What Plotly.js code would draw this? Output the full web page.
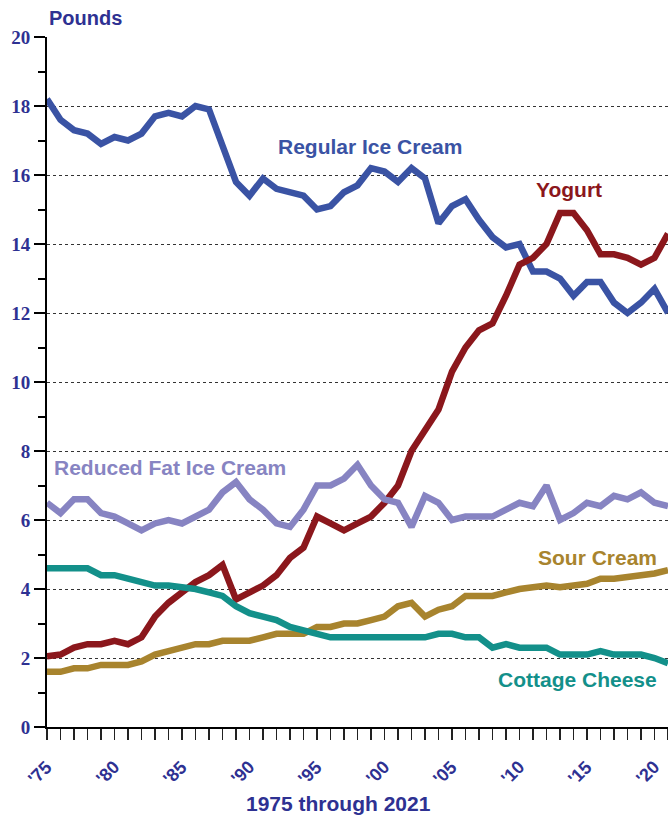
<!DOCTYPE html>
<html>
<head>
<meta charset="utf-8">
<script src="https://cdn.plot.ly/plotly-3.0.1.min.js"></script>
<style>
html, body { margin: 0; padding: 0; background: #ffffff; }
#chart { width: 668px; height: 817px; }
</style>
</head>
<body>
<div id="chart"></div>
<script>
// ---- Data (pounds per person) ----
const years = [];
for (let y = 1975; y <= 2021; y++) years.push(y);

const regularIceCream = [18.2, 17.6, 17.3, 17.2, 16.9, 17.1, 17.0, 17.2, 17.7, 17.8,
  17.7, 18.0, 17.9, 16.9, 15.8, 15.4, 15.9, 15.6, 15.5, 15.4,
  15.0, 15.1, 15.5, 15.7, 16.2, 16.1, 15.8, 16.2, 15.9, 14.6,
  15.1, 15.3, 14.7, 14.2, 13.9, 14.0, 13.2, 13.2, 13.0, 12.5,
  12.9, 12.9, 12.3, 12.0, 12.3, 12.7, 12.0];

const yogurt = [2.05, 2.1, 2.3, 2.4, 2.4, 2.5, 2.4, 2.6, 3.2, 3.6,
  3.9, 4.2, 4.4, 4.7, 3.7, 3.9, 4.1, 4.4, 4.9, 5.2,
  6.1, 5.9, 5.7, 5.9, 6.1, 6.5, 7.0, 8.0, 8.6, 9.2,
  10.3, 11.0, 11.5, 11.7, 12.5, 13.4, 13.6, 14.0, 14.9, 14.9,
  14.4, 13.7, 13.7, 13.6, 13.4, 13.6, 14.3];

const reducedFatIceCream = [6.5, 6.2, 6.6, 6.6, 6.2, 6.1, 5.9, 5.7, 5.9, 6.0,
  5.9, 6.1, 6.3, 6.8, 7.1, 6.6, 6.3, 5.9, 5.8, 6.3,
  7.0, 7.0, 7.2, 7.6, 7.0, 6.6, 6.5, 5.8, 6.7, 6.5,
  6.0, 6.1, 6.1, 6.1, 6.3, 6.5, 6.4, 7.0, 6.0, 6.2,
  6.5, 6.4, 6.7, 6.6, 6.8, 6.5, 6.4];

const sourCream = [1.6, 1.6, 1.7, 1.7, 1.8, 1.8, 1.8, 1.9, 2.1, 2.2,
  2.3, 2.4, 2.4, 2.5, 2.5, 2.5, 2.6, 2.7, 2.7, 2.7,
  2.9, 2.9, 3.0, 3.0, 3.1, 3.2, 3.5, 3.6, 3.2, 3.4,
  3.5, 3.8, 3.8, 3.8, 3.9, 4.0, 4.05, 4.1, 4.05, 4.1,
  4.15, 4.3, 4.3, 4.35, 4.4, 4.45, 4.55];

const cottageCheese = [4.6, 4.6, 4.6, 4.6, 4.4, 4.4, 4.3, 4.2, 4.1, 4.1,
  4.05, 4.0, 3.9, 3.8, 3.5, 3.3, 3.2, 3.1, 2.9, 2.8,
  2.7, 2.6, 2.6, 2.6, 2.6, 2.6, 2.6, 2.6, 2.6, 2.7,
  2.7, 2.6, 2.6, 2.3, 2.4, 2.3, 2.3, 2.3, 2.1, 2.1,
  2.1, 2.2, 2.1, 2.1, 2.1, 2.0, 1.85];

const seriesNames = ["Regular Ice Cream", "Yogurt", "Reduced Fat Ice Cream", "Sour Cream", "Cottage Cheese"];
const seriesColors = ["#3a53a4", "#8b171c", "#8784c2", "#a8842e", "#13908a"];
const xTickVals = [1975, 1980, 1985, 1990, 1995, 2000, 2005, 2010, 2015, 2020];
const xTickText = ["'75", "'80", "'85", "'90", "'95", "'00", "'05", "'10", "'15", "'20"];

// ---- Chart ----
const navy = "#2e3192";
const seriesData = [regularIceCream, yogurt, reducedFatIceCream, sourCream, cottageCheese];

const traces = seriesData.map((vals, i) => ({
  x: years, y: vals, type: "scatter", mode: "lines", name: seriesNames[i],
  line: { color: seriesColors[i], width: 6.5 }, hoverinfo: "x+y"
}));

// label positions (x in years, y in pounds)
const labelPos = [
  [1998.9, 16.83], [2013.7, 15.58], [1984.1, 7.53], [2015.8, 4.92], [2014.3, 1.38]
];
const annotations = seriesNames.map((n, i) => ({
  text: n, x: labelPos[i][0], y: labelPos[i][1], xref: "x", yref: "y",
  showarrow: false, xanchor: "center", yanchor: "middle",
  font: { family: "Liberation Sans, Arial, sans-serif", size: 21, color: seriesColors[i], weight: "bold" }
}));
// rotated x tick labels, placed below the axis
xTickVals.forEach((v, i) => {
  annotations.push({
    text: "<b>" + xTickText[i] + "</b>", x: v, xref: "x", xshift: -7,
    y: -0.067, yref: "paper",
    textangle: -45, showarrow: false,
    xanchor: "center", yanchor: "middle",
    font: { family: "Liberation Sans, Arial, sans-serif", size: 18, color: navy }
  });
});
annotations.push({
  text: "<b>Pounds</b>", xref: "paper", yref: "paper", x: 0, y: 1, yshift: 19,
  xanchor: "left", yanchor: "middle", showarrow: false,
  font: { family: "Liberation Sans, Arial, sans-serif", size: 20, color: navy }
});
annotations.push({
  text: "<b>1975 through 2021</b>", xref: "paper", yref: "paper", x: 0.47, y: 0, yshift: -76,
  xanchor: "center", yanchor: "middle", showarrow: false,
  font: { family: "Liberation Sans, Arial, sans-serif", size: 21, color: navy }
});

const layout = {
  width: 668, height: 817,
  margin: { l: 47, r: 0, t: 37, b: 90, pad: 0 },
  paper_bgcolor: "#ffffff", plot_bgcolor: "#ffffff",
  showlegend: false,
  xaxis: {
    range: [1975, 2021], tickmode: "linear", tick0: 1975, dtick: 1, showticklabels: false,
    ticks: "outside", ticklen: 11, tickwidth: 1.5, tickcolor: "#222",
    showline: true, linecolor: "#000", linewidth: 2, showgrid: false, zeroline: false,
    fixedrange: true
  },
  yaxis: {
    range: [0, 20], dtick: 2, tick0: 0, ticks: "outside", ticklen: 11, tickwidth: 2, tickcolor: "#000",
    showline: true, linecolor: "#000", linewidth: 2, zeroline: false,
    showgrid: true, gridcolor: "#333", gridwidth: 1, griddash: "dot",
    tickfont: { family: "Liberation Serif, Times New Roman, serif", size: 19, color: navy, weight: "bold" },
    minor: { dtick: 1, ticks: "outside", ticklen: 7, tickwidth: 2, tickcolor: "#000", showgrid: false },
    fixedrange: true
  },
  annotations: annotations
};

Plotly.newPlot("chart", traces, layout, { displayModeBar: false, staticPlot: true });
</script>
</body>
</html>
